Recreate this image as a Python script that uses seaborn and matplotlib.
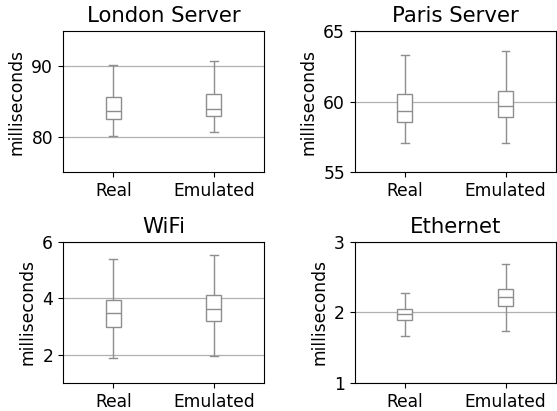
import matplotlib
matplotlib.use("Agg")
import matplotlib.pyplot as plt
import pandas as pd
import seaborn as sns

# five-number summaries (min, q1, median, q3, max)
groups = ["Real", "Emulated"]
titles = ["London Server", "Paris Server", "WiFi", "Ethernet"]

london_real = [80.2, 82.6, 83.7, 85.7, 90.2]
london_emul = [80.7, 82.9, 84.0, 86.0, 90.7]
paris_real = [57.1, 58.55, 59.3, 60.5, 63.3]
paris_emul = [57.1, 58.9, 59.7, 60.78, 63.57]
wifi_real = [1.9, 2.97, 3.48, 3.92, 5.39]
wifi_emul = [1.96, 3.18, 3.63, 4.12, 5.51]
eth_real = [1.66, 1.89, 1.98, 2.05, 2.28]
eth_emul = [1.74, 2.09, 2.22, 2.33, 2.69]

ylims = [(75, 95), (55, 65), (1, 6), (1, 3)]
yticks = [[80, 90], [55, 60, 65], [2, 4, 6], [1, 2, 3]]

panels = [(london_real, london_emul), (paris_real, paris_emul),
          (wifi_real, wifi_emul), (eth_real, eth_emul)]

plt.rcParams["font.size"] = 12.3
plt.rcParams["font.family"] = "DejaVu Sans"

fig, axes = plt.subplots(2, 2, figsize=(5.57, 4.11), dpi=100)
fig.subplots_adjust(left=0.113, right=0.998, top=0.925, bottom=0.068,
                    wspace=0.449, hspace=0.49)

for ax, (real, emul), title, yl, yt in zip(axes.flat, panels, titles, ylims, yticks):
    df = pd.DataFrame({
        "group": [groups[0]] * len(real) + [groups[1]] * len(emul),
        "ms": real + emul,
    })
    sns.boxplot(data=df, x="group", y="ms", order=groups, ax=ax,
                whis=(0, 100), width=0.15, color="white", linecolor="#8e8e8e",
                linewidth=1.0, showfliers=False)
    ax.set_axisbelow(True)
    ax.yaxis.grid(True, color="#b0b0b0", linewidth=0.9)
    ax.set_xlim(-0.5, 1.5)
    ax.set_ylim(*yl)
    ax.set_yticks(yt)
    ax.set_title(title, fontsize=15.3)
    ax.set_xlabel("")
    ax.set_ylabel("milliseconds")

fig.savefig("out.png", dpi=100)
